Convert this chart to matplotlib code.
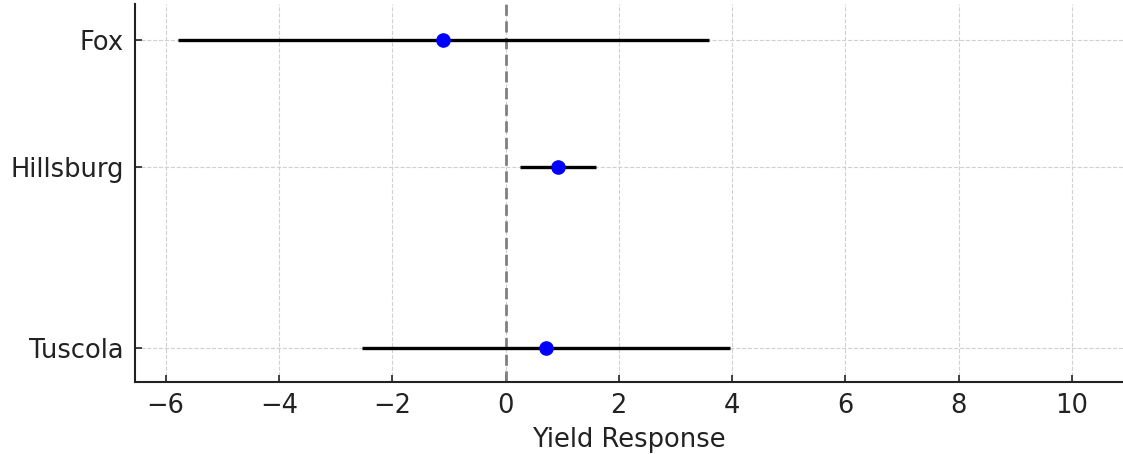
import matplotlib
matplotlib.use("Agg")
import matplotlib.pyplot as plt

# sites, estimates and interval limits
sites = ["Fox", "Hillsburg", "Tuscola"]
site_pos = [2.7, 2.0, 1.0]
estimate = [-1.10, 0.92, 0.71]
lower = [-5.78, 0.25, -2.53]
upper = [3.59, 1.59, 3.96]

fig = plt.figure(figsize=(11.23, 4.54), dpi=100)
ax = fig.add_axes([135 / 1123, 1 - 382 / 454, 1 - 135 / 1123, (382 - 4) / 454])

ax.hlines(site_pos, lower, upper, color="black", linewidth=2.4, zorder=3)
ax.plot(estimate, site_pos, "o", color="blue", markersize=9.5, zorder=4)
ax.axvline(0, color="gray", linestyle=(0, (4, 2)), linewidth=2, zorder=2)

ax.set_yticks(site_pos)
ax.set_yticklabels(sites)
ax.set_xticks(range(-6, 11, 2))
ax.set_xlim(-6.54, 10.9)
ax.set_ylim(0.81, 2.9)

ax.grid(True, linestyle="--", color="#d0d0d0", linewidth=0.8)
ax.set_axisbelow(True)
ax.tick_params(direction="in", labelsize=18.5, length=5, width=1.2, colors="#222222", pad=8)
ax.set_xlabel("Yield Response", fontsize=18.5, color="#222222", labelpad=6)

for s in ["top", "right"]:
    ax.spines[s].set_visible(False)
for s in ["left", "bottom"]:
    ax.spines[s].set_linewidth(1.5)
    ax.spines[s].set_color("#222222")

plt.savefig("out.png", dpi=100)
